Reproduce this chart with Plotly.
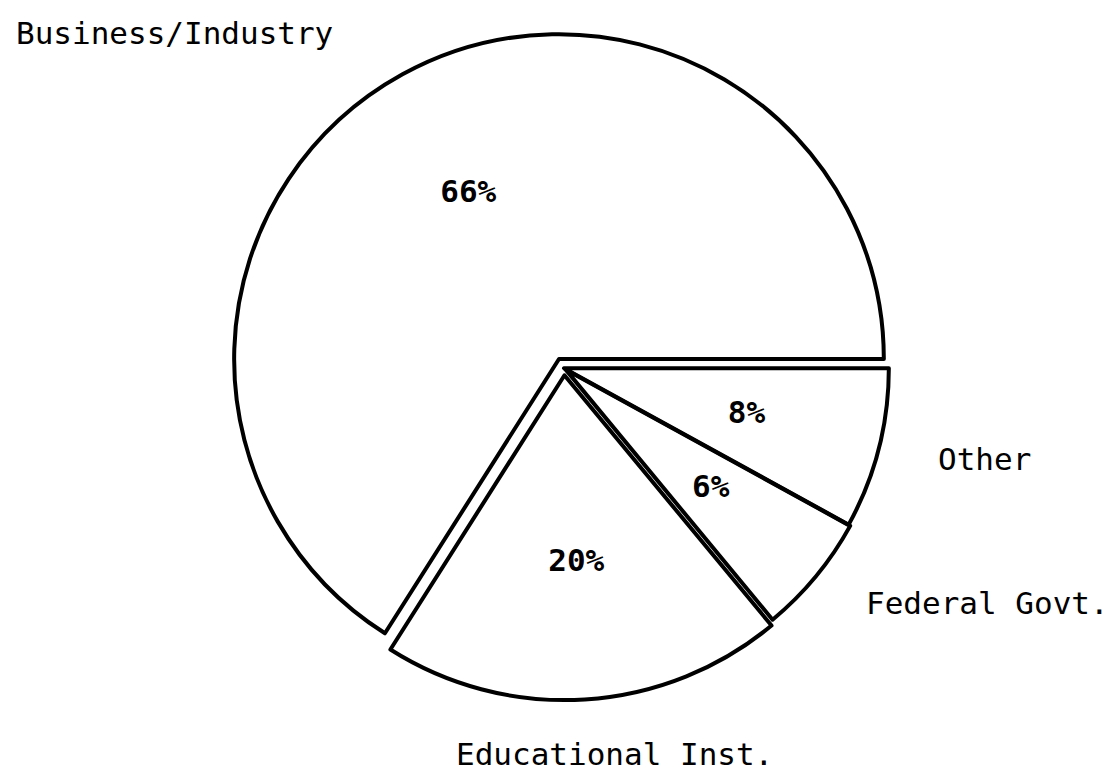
import plotly.graph_objects as go

# sectors of the pie, counterclockwise from 3 o'clock
labels = ["Business/Industry", "Educational Inst.", "Federal Govt.", "Other"]
shares = [66, 20, 6, 8]

# exploded look of the original plot
pulls = [0.032, 0.022, 0.006, 0.0]

# where the outside category names sit (paper coords)
label_pos = {
    "Business/Industry": (6 / 1113, 1 - 25 / 778, "left"),
    "Educational Inst.": (606 / 1113, 1 - 746 / 778, "center"),
    "Federal Govt.": (979 / 1113, 1 - 595 / 778, "center"),
    "Other": (976 / 1113, 1 - 451 / 778, "center"),
}

FONT = "DejaVu Sans Mono"
DOMAIN = dict(x=[0.1982, 0.8009], y=[0.1062, 0.968])
TEXT_R = 0.58  # percent labels sit a bit past half radius, on the bisector

total = sum(shares)
max_pull = max(pulls)

# plotly's counterclockwise pies start at rotation + first slice,
# so put the first slice's start edge at 3 o'clock
start_rot = 90 - 360 * shares[0] / total

# slice bisectors (degrees, counterclockwise from 3 o'clock)
mid_angles = []
acc = 0
for s in shares:
    mid_angles.append(360 * (acc + s / 2) / total)
    acc += s

fig = go.Figure()

# slices left unfilled (page is white) so the polar text layer shows through
fig.add_trace(go.Pie(
    labels=labels,
    values=shares,
    sort=False,
    direction="counterclockwise",
    rotation=start_rot,
    pull=pulls,
    hole=0,
    marker=dict(colors=["rgba(255,255,255,0)"] * len(labels),
                line=dict(color="black", width=4)),
    textinfo="none",
    hoverinfo="label+percent",
    showlegend=False,
    domain=DOMAIN,
))

# percentages placed on an invisible polar axis lined up with the pie
fig.add_trace(go.Scatterpolar(
    r=[TEXT_R + p for p in pulls],
    theta=mid_angles,
    mode="text",
    text=[f"{s}%" for s in shares],
    textfont=dict(family=FONT, size=31, color="black", weight="bold"),
    hoverinfo="skip",
    showlegend=False,
))

for lab in labels:
    x, y, anchor = label_pos[lab]
    fig.add_annotation(
        x=x, y=y, xref="paper", yref="paper",
        text=lab, showarrow=False,
        xanchor=anchor, yanchor="middle",
        font=dict(family=FONT, size=31, color="black"),
    )

fig.update_layout(
    width=1113,
    height=778,
    margin=dict(l=0, r=0, t=0, b=0),
    paper_bgcolor="white",
    plot_bgcolor="white",
    polar=dict(
        domain=DOMAIN,
        bgcolor="rgba(0,0,0,0)",
        radialaxis=dict(range=[0, 1 + max_pull], visible=False),
        angularaxis=dict(rotation=0, direction="counterclockwise", visible=False),
    ),
)

fig.write_html("out.html")
